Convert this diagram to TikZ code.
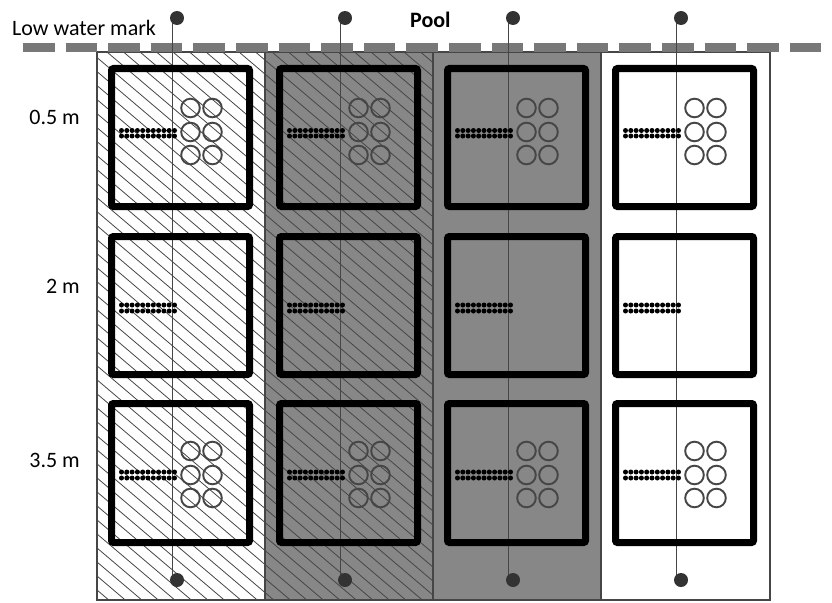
\documentclass[tikz,border=0pt]{standalone}
\usepackage{fontspec}
\setmainfont{Carlito}
\definecolor{colgray}{RGB}{135,135,135}
\definecolor{linegray}{RGB}{70,70,70}
\definecolor{dashgray}{RGB}{120,120,120}
\begin{document}
\begin{tikzpicture}[x=1pt,y=-1pt,
  frame/.style={draw=linegray, line width=1.8pt},
  hatchline/.style={draw=linegray, line width=0.8pt},
  cage/.style={draw=black, line width=7pt, rounded corners=2pt},
  fishdot/.style={fill=black},
  ring/.style={draw=linegray, line width=1.9pt},
  rope/.style={draw=linegray, line width=1pt},
  buoy/.style={fill=black!80},
  lbl/.style={font=\fontsize{22}{26}\selectfont, inner sep=0pt},
  watermark/.style={draw=dashgray, line width=9pt, dash pattern=on 31.5pt off 11.1pt},
]
\useasboundingbox (0,0) rectangle (832,602);

% column fills
\fill[colgray] (265,52) rectangle (601,600);
% hatching on first two columns
\begin{scope}
  \clip (97,52) rectangle (433,600);
  \foreach \i in {0,...,62} {
    \draw[hatchline] ({97-650+\i*16.5},52) -- ++(650,552);
  }
\end{scope}

% frame and dividers
\draw[frame] (97,52) rectangle (770,600);
\foreach \x in {265,433,601} { \draw[frame] (\x,52) -- (\x,600); }

% low water mark
\coordinate (wl) at (23,47.5);
\coordinate (wr) at (822,47.5);
\draw[watermark] (wl) -- (wr);

% ropes and buoys
\foreach \c in {0,1,2,3} {
  \pgfmathsetmacro{\L}{97+168*\c}
  \coordinate (rt\c) at ({\L+75},18);
  \coordinate (rb\c) at ({\L+75},580);
  \draw[rope] (rt\c) -- (rb\c);
  \fill[buoy] ({\L+80},18) circle (7);
  \fill[buoy] ({\L+80},580) circle (7);
}

% cages
\foreach \c in {0,1,2,3} {
  \pgfmathsetmacro{\L}{97+168*\c}
  \foreach \t/\b in {68.5/206.5, 236.5/374.5, 403.5/542.5} {
    \draw[cage] ({\L+14.5},\t) rectangle ({\L+152.5},\b);
  }
  % fish dots
  \foreach \y in {130.5,136, 305,311, 472,478} {
    \foreach \k in {0,...,10} {
      \fill[fishdot] ({\L+24.5+\k*5.3},\y) circle (2.5);
    }
  }
  % rings
  \foreach \y in {108,132,155, 451,475,498} {
    \draw[ring] ({\L+93.5},\y) circle (9.3);
    \draw[ring] ({\L+115.5},\y) circle (9.3);
  }
}

% labels
\node[lbl, anchor=base west] (lwm) at (12,36) {Low water mark};
\node[lbl, anchor=base west] (pool) at (410,28) {\bfseries Pool};
\node[lbl, anchor=base east] (d1) at (80,124) {0.5 m};
\node[lbl, anchor=base east] (d2) at (80,293) {2 m};
\node[lbl, anchor=base east] (d3) at (80,467) {3.5 m};
\end{tikzpicture}
\end{document}
